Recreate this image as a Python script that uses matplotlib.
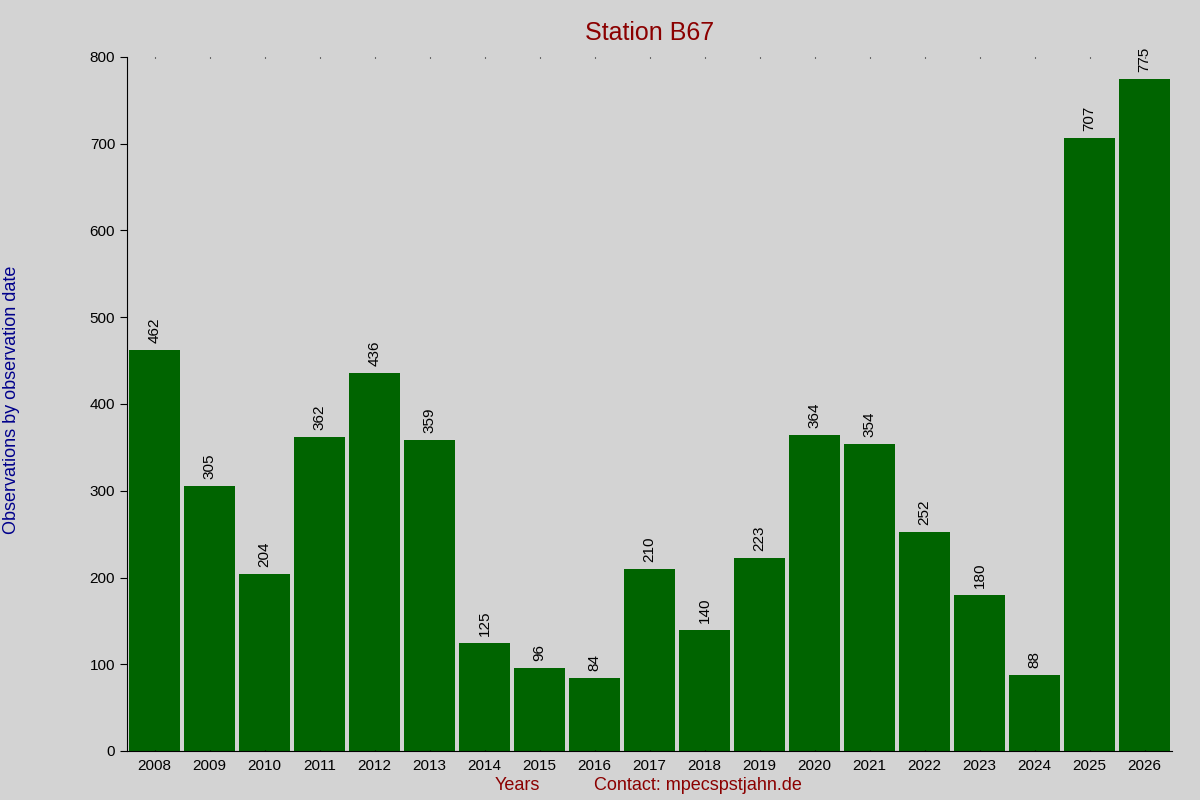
import matplotlib
matplotlib.use("Agg")
import matplotlib.pyplot as plt

years = [str(y) for y in range(2008, 2027)]
values = [462, 305, 204, 362, 436, 359, 125, 96, 84, 210, 140, 223, 364, 354, 252, 180, 88, 707, 775]

plt.rcParams['font.family'] = ['Liberation Sans', 'DejaVu Sans']
fig = plt.figure(figsize=(12, 8), dpi=100, facecolor='#d3d3d3')
ax = fig.add_axes([127/1200, 49/800, 1045/1200, 694/800], facecolor='#d3d3d3')
x = list(range(len(years)))
ax.bar(x, values, width=0.92, color='#006400')
for xi, v in zip(x, values):
    ax.text(xi, v + 8, str(v), rotation=90, ha='center', va='bottom', fontsize=11, color='black')
ax.set_xlim(-0.5, len(years) - 0.5)
ax.set_ylim(0, 800)
ax.set_yticks(range(0, 801, 100))
ax.set_xticks(x)
ax.set_xticklabels(years, fontsize=11)
ax.tick_params(axis='y', labelsize=11, direction='out', length=5)
ax.tick_params(axis='x', direction='out', length=0, pad=6, top=True)
ax.tick_params(axis='x', which='major', top=True, direction='in', length=1)
for s in ['top', 'right']:
    ax.spines[s].set_visible(False)
ax.set_title('Station B67', color='#8b0000', fontsize=18, pad=12)
fig.text(12/1200, 0.5, 'Observations by observation date', rotation=90, color='#00008b',
         fontsize=13, ha='center', va='center')
fig.text(517/1200, 14/800, 'Years', color='#8b0000', fontsize=13, ha='center', va='center')
fig.text(698/1200, 14/800, 'Contact: mpecspstjahn.de', color='#8b0000', fontsize=13, ha='center', va='center')
fig.savefig('out.png', dpi=100, facecolor='#d3d3d3')
